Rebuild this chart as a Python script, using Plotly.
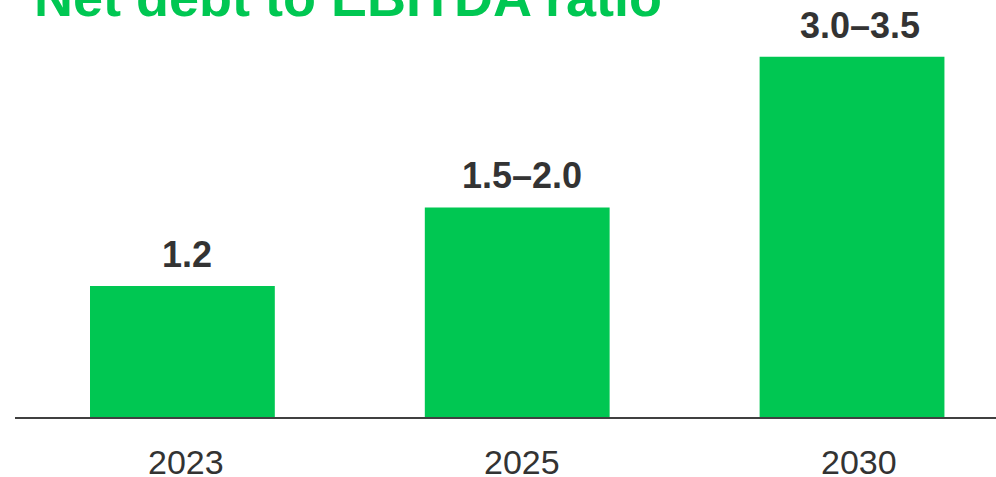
import plotly.graph_objects as go

categories = ["2023", "2025", "2030"]
bar_heights = [1.2, 1.92, 3.3]
value_labels = ["1.2", "1.5–2.0", "3.0–3.5"]
title_text = "Net debt to EBITDA ratio"

GREEN = "#00C752"
FONT = "Liberation Sans, Arial, sans-serif"
value_xshift = [5, 5, 8]
tick_xshift = [4, 5, 7]

fig = go.Figure()
fig.add_trace(go.Bar(
    x=categories, y=bar_heights, marker=dict(color=GREEN, line=dict(width=0)),
    hoverinfo="skip",
))

for i, (v, t) in enumerate(zip(bar_heights, value_labels)):
    fig.add_annotation(x=i, y=v, xref="x", yref="y", text="<b>" + t + "</b>",
                       showarrow=False, yanchor="bottom", xshift=value_xshift[i],
                       yshift=9, font=dict(family=FONT, size=36, color="#333333"))

for i, c in enumerate(categories):
    fig.add_annotation(x=i, y=0, xref="x", yref="y", text=c,
                       showarrow=False, yanchor="middle", xshift=tick_xshift[i],
                       yshift=-45, font=dict(family=FONT, size=34, color="#333333"))

fig.add_annotation(xref="paper", yref="paper", x=(32 - 15) / 981, y=1.0,
                   xanchor="left", yanchor="middle", yshift=3,
                   text="<b>" + title_text + "</b>",
                   showarrow=False, font=dict(family=FONT, size=54, color=GREEN))

fig.update_layout(
    width=996, height=477,
    margin=dict(l=15, r=0, t=0, b=60, autoexpand=False),
    paper_bgcolor="white", plot_bgcolor="white",
    showlegend=False, bargap=0.448,
    xaxis=dict(type="category", range=[-0.5, 2.43], automargin=False,
               showline=True, linecolor="#404040", linewidth=2,
               showgrid=False, ticks="", showticklabels=False),
    yaxis=dict(range=[0, 3.82], visible=False, showgrid=False, zeroline=False,
               automargin=False),
)

fig.write_html("out.html", config={"displayModeBar": False},
               post_script="document.body.style.margin='0';document.body.style.overflow='hidden';")
